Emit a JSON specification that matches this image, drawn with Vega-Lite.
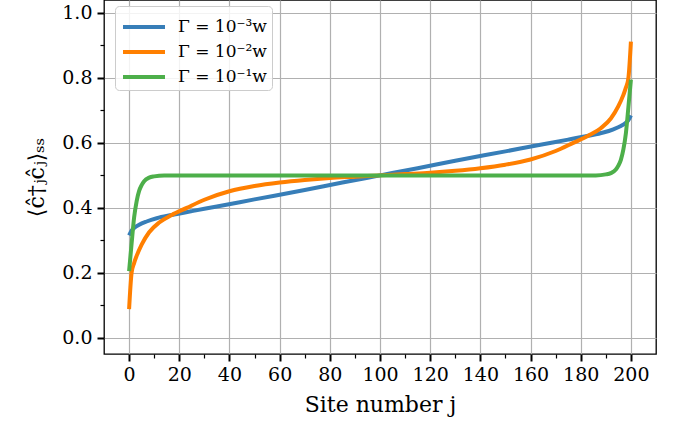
{
  "$schema": "https://vega.github.io/schema/vega-lite/v6.json",
  "width": 552,
  "height": 354,
  "autosize": {"type": "none"},
  "padding": {"left": 104, "top": 0, "right": 19, "bottom": 73},
  "background": "white",
  "config": {
    "view": {"stroke": "black", "strokeWidth": 1.3},
    "font": "DejaVu Serif"
  },
  "datasets": {
    "curves": [
      {"j": 0, "v": 0.315, "series": "Γ = 10⁻³w"},
      {"j": 1, "v": 0.33, "series": "Γ = 10⁻³w"},
      {"j": 2, "v": 0.338, "series": "Γ = 10⁻³w"},
      {"j": 4, "v": 0.348, "series": "Γ = 10⁻³w"},
      {"j": 7, "v": 0.358, "series": "Γ = 10⁻³w"},
      {"j": 11, "v": 0.368, "series": "Γ = 10⁻³w"},
      {"j": 17, "v": 0.378, "series": "Γ = 10⁻³w"},
      {"j": 25, "v": 0.39, "series": "Γ = 10⁻³w"},
      {"j": 35, "v": 0.404, "series": "Γ = 10⁻³w"},
      {"j": 50, "v": 0.426, "series": "Γ = 10⁻³w"},
      {"j": 70, "v": 0.455, "series": "Γ = 10⁻³w"},
      {"j": 85, "v": 0.478, "series": "Γ = 10⁻³w"},
      {"j": 100, "v": 0.5, "series": "Γ = 10⁻³w"},
      {"j": 115, "v": 0.522, "series": "Γ = 10⁻³w"},
      {"j": 130, "v": 0.545, "series": "Γ = 10⁻³w"},
      {"j": 150, "v": 0.574, "series": "Γ = 10⁻³w"},
      {"j": 165, "v": 0.596, "series": "Γ = 10⁻³w"},
      {"j": 175, "v": 0.61, "series": "Γ = 10⁻³w"},
      {"j": 183, "v": 0.622, "series": "Γ = 10⁻³w"},
      {"j": 189, "v": 0.632, "series": "Γ = 10⁻³w"},
      {"j": 193, "v": 0.642, "series": "Γ = 10⁻³w"},
      {"j": 196, "v": 0.652, "series": "Γ = 10⁻³w"},
      {"j": 198, "v": 0.662, "series": "Γ = 10⁻³w"},
      {"j": 199, "v": 0.67, "series": "Γ = 10⁻³w"},
      {"j": 200, "v": 0.685, "series": "Γ = 10⁻³w"},

      {"j": 0, "v": 0.088, "series": "Γ = 10⁻²w"},
      {"j": 1, "v": 0.2, "series": "Γ = 10⁻²w"},
      {"j": 2, "v": 0.23, "series": "Γ = 10⁻²w"},
      {"j": 3, "v": 0.252, "series": "Γ = 10⁻²w"},
      {"j": 5, "v": 0.287, "series": "Γ = 10⁻²w"},
      {"j": 8, "v": 0.325, "series": "Γ = 10⁻²w"},
      {"j": 12, "v": 0.355, "series": "Γ = 10⁻²w"},
      {"j": 17, "v": 0.378, "series": "Γ = 10⁻²w"},
      {"j": 23, "v": 0.4, "series": "Γ = 10⁻²w"},
      {"j": 30, "v": 0.425, "series": "Γ = 10⁻²w"},
      {"j": 40, "v": 0.451, "series": "Γ = 10⁻²w"},
      {"j": 50, "v": 0.467, "series": "Γ = 10⁻²w"},
      {"j": 60, "v": 0.478, "series": "Γ = 10⁻²w"},
      {"j": 70, "v": 0.486, "series": "Γ = 10⁻²w"},
      {"j": 80, "v": 0.492, "series": "Γ = 10⁻²w"},
      {"j": 90, "v": 0.496, "series": "Γ = 10⁻²w"},
      {"j": 100, "v": 0.5, "series": "Γ = 10⁻²w"},
      {"j": 110, "v": 0.504, "series": "Γ = 10⁻²w"},
      {"j": 120, "v": 0.508, "series": "Γ = 10⁻²w"},
      {"j": 130, "v": 0.514, "series": "Γ = 10⁻²w"},
      {"j": 140, "v": 0.522, "series": "Γ = 10⁻²w"},
      {"j": 150, "v": 0.533, "series": "Γ = 10⁻²w"},
      {"j": 160, "v": 0.549, "series": "Γ = 10⁻²w"},
      {"j": 170, "v": 0.575, "series": "Γ = 10⁻²w"},
      {"j": 177, "v": 0.6, "series": "Γ = 10⁻²w"},
      {"j": 183, "v": 0.622, "series": "Γ = 10⁻²w"},
      {"j": 188, "v": 0.645, "series": "Γ = 10⁻²w"},
      {"j": 192, "v": 0.675, "series": "Γ = 10⁻²w"},
      {"j": 195, "v": 0.713, "series": "Γ = 10⁻²w"},
      {"j": 197, "v": 0.748, "series": "Γ = 10⁻²w"},
      {"j": 198, "v": 0.77, "series": "Γ = 10⁻²w"},
      {"j": 199, "v": 0.8, "series": "Γ = 10⁻²w"},
      {"j": 200, "v": 0.912, "series": "Γ = 10⁻²w"},

      {"j": 0, "v": 0.205, "series": "Γ = 10⁻¹w"},
      {"j": 1, "v": 0.29, "series": "Γ = 10⁻¹w"},
      {"j": 2, "v": 0.37, "series": "Γ = 10⁻¹w"},
      {"j": 3, "v": 0.42, "series": "Γ = 10⁻¹w"},
      {"j": 4, "v": 0.452, "series": "Γ = 10⁻¹w"},
      {"j": 5, "v": 0.47, "series": "Γ = 10⁻¹w"},
      {"j": 6, "v": 0.482, "series": "Γ = 10⁻¹w"},
      {"j": 8, "v": 0.493, "series": "Γ = 10⁻¹w"},
      {"j": 10, "v": 0.497, "series": "Γ = 10⁻¹w"},
      {"j": 14, "v": 0.5, "series": "Γ = 10⁻¹w"},
      {"j": 100, "v": 0.5, "series": "Γ = 10⁻¹w"},
      {"j": 186, "v": 0.5, "series": "Γ = 10⁻¹w"},
      {"j": 190, "v": 0.503, "series": "Γ = 10⁻¹w"},
      {"j": 192, "v": 0.507, "series": "Γ = 10⁻¹w"},
      {"j": 194, "v": 0.518, "series": "Γ = 10⁻¹w"},
      {"j": 195, "v": 0.53, "series": "Γ = 10⁻¹w"},
      {"j": 196, "v": 0.548, "series": "Γ = 10⁻¹w"},
      {"j": 197, "v": 0.58, "series": "Γ = 10⁻¹w"},
      {"j": 198, "v": 0.63, "series": "Γ = 10⁻¹w"},
      {"j": 199, "v": 0.71, "series": "Γ = 10⁻¹w"},
      {"j": 200, "v": 0.795, "series": "Γ = 10⁻¹w"}
    ]
  },
  "data": {"name": "curves"},
  "layer": [
    {
      "mark": {"type": "point", "opacity": 0},
      "encoding": {
        "x": {
          "field": "j", "type": "quantitative",
          "scale": {"domain": [-10, 210], "nice": false, "zero": false},
          "axis": {"orient": "bottom", "values": [10, 30, 50, 70, 90, 110, 130, 150, 170, 190], "labels": false, "title": null, "grid": false, "domain": false, "tickSize": 4, "tickWidth": 1.2, "tickColor": "black"}
        },
        "y": {
          "field": "v", "type": "quantitative",
          "scale": {"domain": [-0.05, 1.04], "nice": false, "zero": false},
          "axis": {"orient": "left", "values": [0.1, 0.3, 0.5, 0.7, 0.9], "labels": false, "title": null, "grid": false, "domain": false, "tickSize": 4, "tickWidth": 1.2, "tickColor": "black"}
        }
      }
    },
    {
      "mark": {"type": "line", "strokeWidth": 4, "interpolate": "monotone", "clip": true},
      "encoding": {
        "x": {
          "field": "j", "type": "quantitative",
          "scale": {"domain": [-10, 210], "nice": false, "zero": false},
          "axis": {"orient": "bottom", "values": [0, 20, 40, 60, 80, 100, 120, 140, 160, 180, 200], "format": "d", "title": "Site number j", "titleFontSize": 22, "titleFontWeight": "normal", "titleColor": "black", "titlePadding": 10, "labelFontSize": 19, "labelColor": "black", "labelPadding": 4, "tickSize": 7, "tickWidth": 2, "tickColor": "black", "domain": false, "grid": true, "gridColor": "#b0b0b0", "gridWidth": 1.2, "labelFont": "DejaVu Serif", "titleFont": "DejaVu Serif"}
        },
        "y": {
          "field": "v", "type": "quantitative",
          "scale": {"domain": [-0.05, 1.04], "nice": false, "zero": false},
          "axis": {"orient": "left", "values": [0, 0.2, 0.4, 0.6, 0.8, 1.0], "format": ".1f", "title": "⟨ĉ†ⱼĉⱼ⟩ₛₛ", "titleFontSize": 22, "titleFontWeight": "normal", "titleColor": "black", "titlePadding": 13, "labelFontSize": 19, "labelColor": "black", "labelPadding": 5, "tickSize": 7, "tickWidth": 2, "tickColor": "black", "domain": false, "grid": true, "gridColor": "#b0b0b0", "gridWidth": 1.2, "labelFont": "DejaVu Serif", "titleFont": "DejaVu Serif"}
        },
        "color": {
          "field": "series", "type": "nominal",
          "scale": {"domain": ["Γ = 10⁻³w", "Γ = 10⁻²w", "Γ = 10⁻¹w"], "range": ["#377eb8", "#ff7f00", "#4daf4a"]},
          "legend": {"orient": "none", "legendX": 11, "legendY": 6, "title": null, "padding": 5, "fillColor": "rgba(255,255,255,0.85)", "strokeColor": "#cccccc", "cornerRadius": 4, "symbolType": "M-1.5,0L1.5,0", "symbolSize": 784, "symbolStrokeWidth": 4, "symbolOffset": 8, "labelFontSize": 17, "labelFont": "DejaVu Serif", "labelColor": "black", "labelOffset": 18, "rowPadding": 1}
        }
      }
    }
  ],
  "resolve": {"axis": {"x": "independent", "y": "independent"}}
}
